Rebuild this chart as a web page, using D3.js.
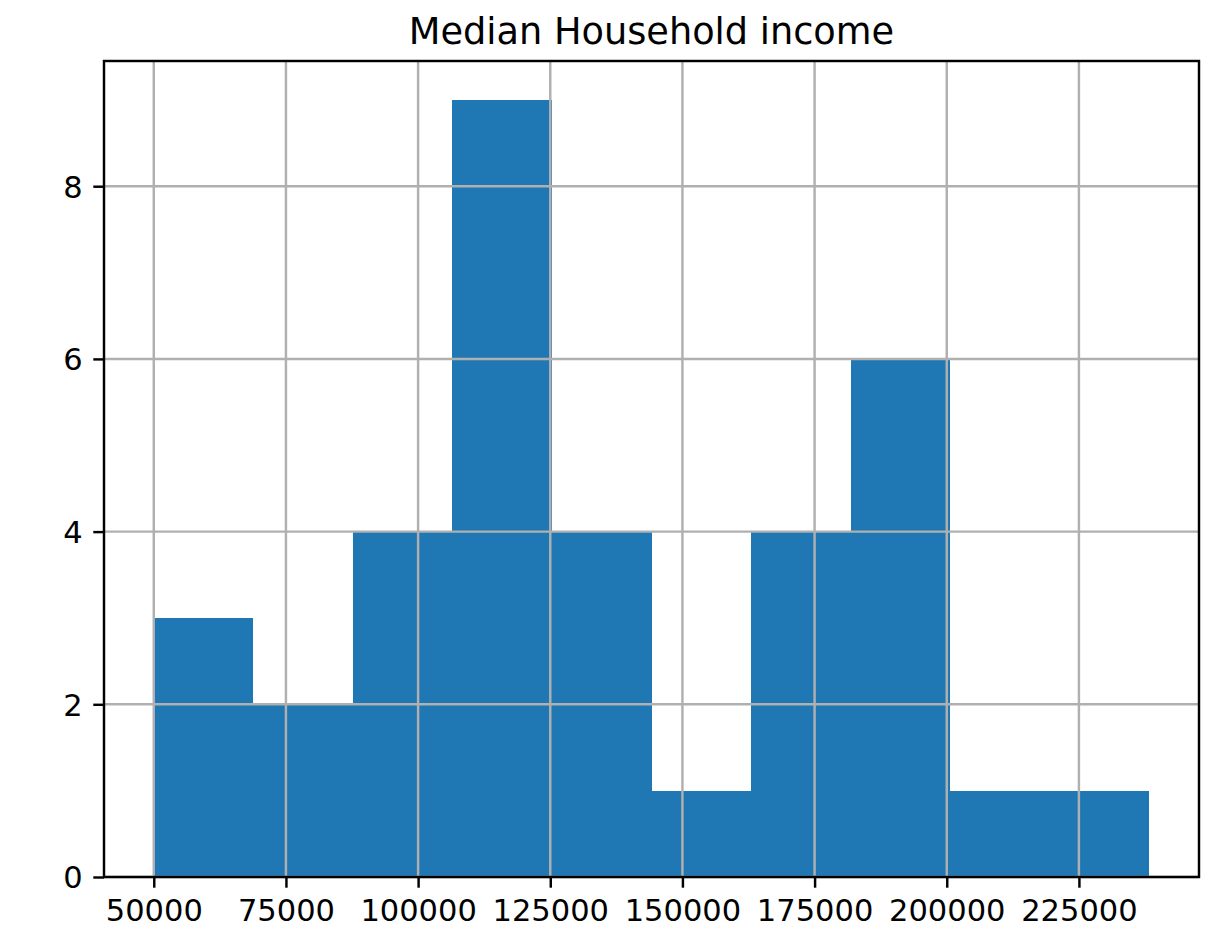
<!DOCTYPE html>
<html>
<head>
<meta charset="utf-8">
<script src="https://cdn.jsdelivr.net/npm/d3@7"></script>
<style>
    body { margin: 0; background: #fff; }
    text { font-family: "DejaVu Sans", sans-serif; fill: #000; }
</style>
</head>
<body>
<div id="chart"></div>
<script>
// Histogram data (10 equal bins)
var chartTitle = "Median Household income";
var binEdges = [50000, 68830, 87660, 106490, 125320, 144150, 162980, 181810, 200640, 219470, 238300];
var binCounts = [3, 2, 4, 9, 4, 1, 4, 6, 1, 1];
var xTickValues = [50000, 75000, 100000, 125000, 150000, 175000, 200000, 225000];
var yTickValues = [0, 2, 4, 6, 8];

var width = 1224, height = 937;
var margin = {top: 61, right: 25, bottom: 60, left: 104};
var plotW = width - margin.left - margin.right;
var plotH = height - margin.top - margin.bottom;

var lw = 2.45;           // 0.8pt at this scale
var tickLen = 10.7;
var tickFont = 30.5;

var bins = binCounts.map(function (c, i) {
    return {x0: binEdges[i], x1: binEdges[i + 1], count: c};
});

// matplotlib style 5% x margin, y top margin
var xMin = binEdges[0], xMax = binEdges[binEdges.length - 1];
var pad = (xMax - xMin) * 0.05;
var xScale = d3.scaleLinear().domain([xMin - pad, xMax + pad]).range([0, plotW]);
var yScale = d3.scaleLinear().domain([0, d3.max(binCounts) * 1.05]).range([plotH, 0]);

var svg = d3.select("#chart").append("svg")
    .attr("width", width)
    .attr("height", height);

var g = svg.append("g").attr("transform", "translate(" + margin.left + "," + margin.top + ")");

// Bars
g.selectAll("rect.bar")
    .data(bins)
    .enter().append("rect")
    .attr("class", "bar")
    .attr("x", function (d) { return xScale(d.x0); })
    .attr("width", function (d) { return xScale(d.x1) - xScale(d.x0); })
    .attr("y", function (d) { return yScale(d.count); })
    .attr("height", function (d) { return plotH - yScale(d.count); })
    .attr("fill", "#1f77b4")
    .attr("shape-rendering", "crispEdges");

// Grid (drawn over the bars like the reference)
g.selectAll("line.vgrid")
    .data(xTickValues)
    .enter().append("line")
    .attr("class", "vgrid")
    .attr("x1", function (d) { return xScale(d); })
    .attr("x2", function (d) { return xScale(d); })
    .attr("y1", 0).attr("y2", plotH)
    .attr("stroke", "#b0b0b0").attr("stroke-width", lw);

g.selectAll("line.hgrid")
    .data(yTickValues)
    .enter().append("line")
    .attr("class", "hgrid")
    .attr("y1", function (d) { return yScale(d); })
    .attr("y2", function (d) { return yScale(d); })
    .attr("x1", 0).attr("x2", plotW)
    .attr("stroke", "#b0b0b0").attr("stroke-width", lw);

// Axes
var xAxis = d3.axisBottom(xScale)
    .tickValues(xTickValues)
    .tickSize(tickLen)
    .tickPadding(tickLen)
    .tickFormat(d3.format("d"));

var yAxis = d3.axisLeft(yScale)
    .tickValues(yTickValues)
    .tickSize(tickLen)
    .tickPadding(tickLen)
    .tickFormat(d3.format("d"));

var gx = g.append("g")
    .attr("transform", "translate(0," + plotH + ")")
    .call(xAxis);
gx.select(".domain").remove();
gx.selectAll(".tick line").attr("stroke", "#000").attr("stroke-width", lw);
gx.selectAll(".tick text")
    .style("font-size", tickFont + "px")
    .attr("font-family", null)
    .attr("dy", "0.74em");

var gy = g.append("g").call(yAxis);
gy.select(".domain").remove();
gy.selectAll(".tick line").attr("stroke", "#000").attr("stroke-width", lw);
gy.selectAll(".tick text")
    .style("font-size", tickFont + "px")
    .attr("dy", "0.36em");

// Spines
g.append("rect")
    .attr("x", 0).attr("y", 0)
    .attr("width", plotW).attr("height", plotH)
    .attr("fill", "none")
    .attr("stroke", "#000")
    .attr("stroke-width", lw);

// Title
svg.append("text")
    .attr("x", margin.left + plotW / 2)
    .attr("y", 44)
    .attr("text-anchor", "middle")
    .style("font-size", "36.7px")
    .text(chartTitle);
</script>
</body>
</html>
